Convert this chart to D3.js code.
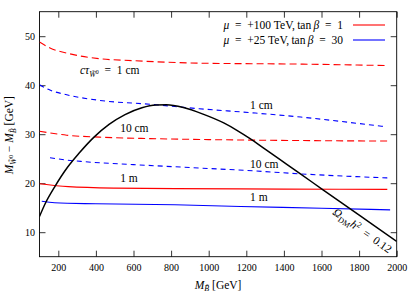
<!DOCTYPE html>
<html>
<head>
<meta charset="utf-8">
<script src="https://cdn.jsdelivr.net/npm/d3@7"></script>
<style>
  body { margin: 0; background: #fff; }
  svg text { font-family: "Liberation Serif", "DejaVu Serif", serif; fill: #000; }
</style>
</head>
<body>
<div id="chart"></div>
<script>
// axis ticks
const xTicks = [200, 400, 600, 800, 1000, 1200, 1400, 1600, 1800, 2000];
const yTicks = [10, 20, 30, 40, 50];

// relic density line, Omega h^2 = 0.12
const omegaCurve = [[100, 13.2], [130, 15.8], [180, 19.2], [250, 23.3], [310, 26.1], [390, 29.4],
  [470, 32.0], [555, 34.0], [645, 35.4], [720, 35.95], [775, 36.0], [865, 35.45], [970, 34.1],
  [1080, 32.3], [1150, 30.8], [1220, 29.1], [1300, 26.95], [1380, 24.8], [1486, 21.95],
  [1610, 18.6], [1753, 14.75], [1880, 11.35], [2000, 8.1]];

// mu = +100 TeV, tan beta = 1 (red)
const red1cm = [[100, 48.8], [156, 47.6], [262, 46.4], [422, 45.4], [600, 45.0], [950, 44.5], [1500, 44.3], [1955, 44.0]];
const red10cm = [[100, 30.6], [245, 29.8], [420, 29.4], [690, 29.1], [1000, 28.9], [1500, 28.7], [1955, 28.6]];
const red1m = [[100, 19.9], [253, 19.3], [500, 19.0], [820, 18.9], [1400, 18.8], [1950, 18.75]];

// mu = +25 TeV, tan beta = 30 (blue)
const blue1cm = [[100, 40.1], [150, 39.1], [250, 38.0], [420, 36.9], [690, 36.1], [950, 35.2], [1220, 34.4], [1490, 33.5], [1750, 32.4], [1945, 31.5]];
const blue10cm = [[156, 25.2], [250, 24.7], [335, 24.4], [600, 23.8], [1000, 23.0], [1200, 22.6], [1490, 21.9], [1965, 21.05]];
const blue1m = [[112, 16.3], [180, 16.0], [400, 15.8], [820, 15.6], [1170, 15.25], [1600, 14.9], [1965, 14.55]];

const legendLabels = [
  { mu: "+100", tb: "1", color: "#ff0000" },
  { mu: "+25", tb: "30", color: "#0000ff" }
];

const margin = { top: 11.7, right: 18.3, bottom: 36.3, left: 39.5 },
      width = 415 - margin.left - margin.right,
      height = 293 - margin.top - margin.bottom;

const x = d3.scaleLinear().domain([100, 2000]).range([0, width]);
const y = d3.scaleLinear().domain([5, 55]).range([height, 0]);

const svg = d3.select("#chart")
  .append("svg")
  .attr("width", 415)
  .attr("height", 293)
  .append("g")
  .attr("transform", "translate(" + margin.left + "," + margin.top + ")");

svg.append("clipPath").attr("id", "plotclip")
  .append("rect").attr("width", width).attr("height", height);

// axes, ticks pointing inward
const tickLen = 6;
const xAxis = svg.append("g")
  .attr("transform", "translate(0," + height + ")")
  .call(d3.axisBottom(x).tickValues(xTicks).tickSize(-tickLen).tickPadding(5).tickFormat(d3.format("d")));
svg.append("g")
  .call(d3.axisTop(x).tickValues(xTicks).tickSize(-tickLen).tickFormat(""));
svg.append("g")
  .call(d3.axisLeft(y).tickValues(yTicks).tickSize(-tickLen).tickPadding(4.5).tickFormat(d3.format("d")));
svg.append("g")
  .attr("transform", "translate(" + width + ",0)")
  .call(d3.axisRight(y).tickValues(yTicks).tickSize(-tickLen).tickFormat(""));

svg.selectAll(".domain").remove();
svg.selectAll(".tick line").attr("stroke", "#000").attr("stroke-width", 0.8);
svg.selectAll(".tick text")
  .attr("font-family", null)
  .style("font-family", "'Liberation Serif', serif")
  .style("font-size", "10px");
xAxis.selectAll(".tick text").attr("dy", "0.95em");

// frame
svg.append("rect")
  .attr("width", width)
  .attr("height", height)
  .attr("fill", "none")
  .attr("stroke", "#000")
  .attr("stroke-width", 0.9);

const line = d3.line()
  .x(d => x(d[0]))
  .y(d => y(d[1]))
  .curve(d3.curveMonotoneX);

const plot = svg.append("g").attr("clip-path", "url(#plotclip)");

const series = [
  { data: red1cm, color: "#ff0000", dash: "7,4" },
  { data: red10cm, color: "#ff0000", dash: "7,4" },
  { data: red1m, color: "#ff0000", dash: null },
  { data: blue1cm, color: "#0000ff", dash: "5,4" },
  { data: blue10cm, color: "#0000ff", dash: "5,4" },
  { data: blue1m, color: "#0000ff", dash: null }
];

plot.selectAll(".series")
  .data(series)
  .join("path")
  .attr("class", "series")
  .attr("d", d => line(d.data))
  .attr("fill", "none")
  .attr("stroke", d => d.color)
  .attr("stroke-width", 1.1)
  .attr("stroke-dasharray", d => d.dash);

plot.append("path")
  .attr("d", line(omegaCurve))
  .attr("fill", "none")
  .attr("stroke", "#000")
  .attr("stroke-width", 1.5);

// decay length labels
const labelSize = "11.5px";
const eq = "\u2002=\u2002";
const cLabel = svg.append("text")
  .attr("x", x(315))
  .attr("y", y(42.2))
  .style("font-size", labelSize);
cLabel.append("tspan").style("font-style", "italic").text("cτ");
cLabel.append("tspan").attr("dy", 2.5).style("font-size", "8px").style("font-style", "italic").text("W̃");
cLabel.append("tspan").attr("dy", -3).style("font-size", "6px").text("0");
cLabel.append("tspan").attr("dy", 0.5).text(eq + "1 cm");

const plainLabels = [
  { text: "10 cm", x: 529, y: 30.4 },
  { text: "1 m", x: 529, y: 20.2 },
  { text: "1 cm", x: 1220, y: 35.1 },
  { text: "10 cm", x: 1220, y: 23.2 },
  { text: "1 m", x: 1220, y: 16.3 }
];
svg.selectAll(".dlabel")
  .data(plainLabels)
  .join("text")
  .attr("class", "dlabel")
  .attr("x", d => x(d.x))
  .attr("y", d => y(d.y))
  .style("font-size", labelSize)
  .text(d => d.text);

// relic density label along the line
const angle = Math.atan2(y(8.1) - y(21.95), x(2000) - x(1486)) * 180 / Math.PI;
const om = svg.append("text")
  .attr("transform", "translate(" + x(1852) + "," + y(12.2) + ") rotate(" + angle + ")")
  .attr("text-anchor", "middle")
  .attr("y", 15)
  .style("font-size", labelSize);
om.append("tspan").style("font-style", "italic").text("Ω");
om.append("tspan").attr("dy", 2.5).style("font-size", "8px").text("DM");
om.append("tspan").attr("dy", -2.5).style("font-style", "italic").text("h");
om.append("tspan").attr("dy", -4).style("font-size", "8px").text("2");
om.append("tspan").attr("dy", 4).text(eq + "0.12");

// legend
const legend = svg.append("g")
  .attr("transform", "translate(" + (width - 53.7) + "," + 13.3 + ")");
legendLabels.forEach((d, i) => {
  const row = legend.append("g").attr("transform", "translate(0," + (i * 15) + ")");
  const t = row.append("text")
    .attr("x", 0)
    .attr("y", 4)
    .attr("text-anchor", "end")
    .style("font-size", labelSize);
  t.append("tspan").style("font-style", "italic").text("μ");
  t.append("tspan").text(eq + d.mu + " TeV,\u2009tan\u2009");
  t.append("tspan").style("font-style", "italic").text("β");
  t.append("tspan").text(eq + d.tb);
  row.append("line")
    .attr("x1", 10).attr("x2", 42)
    .attr("stroke", d.color)
    .attr("stroke-width", 1.1);
});

// axis titles
const xt = svg.append("text")
  .attr("x", x(1050))
  .attr("y", height + 32)
  .attr("text-anchor", "middle")
  .style("font-size", labelSize);
xt.append("tspan").style("font-style", "italic").text("M");
xt.append("tspan").attr("dy", 2.5).style("font-size", "8px").style("font-style", "italic").text("B̃");
xt.append("tspan").attr("dy", -2.5).text(" [GeV]");

const yt = svg.append("text")
  .attr("transform", "translate(" + (-margin.left + 13) + "," + (height / 2 + 1) + ") rotate(-90)")
  .attr("text-anchor", "middle")
  .style("font-size", labelSize);
yt.append("tspan").style("font-style", "italic").text("M");
yt.append("tspan").attr("dy", 2.5).style("font-size", "8px").style("font-style", "italic").text("W̃");
yt.append("tspan").attr("dy", -3).style("font-size", "6px").text("0");
yt.append("tspan").attr("dy", 0.5).text(" − ");
yt.append("tspan").style("font-style", "italic").text("M");
yt.append("tspan").attr("dy", 2.5).style("font-size", "8px").style("font-style", "italic").text("B̃");
yt.append("tspan").attr("dy", -2.5).text(" [GeV]");
</script>
</body>
</html>
